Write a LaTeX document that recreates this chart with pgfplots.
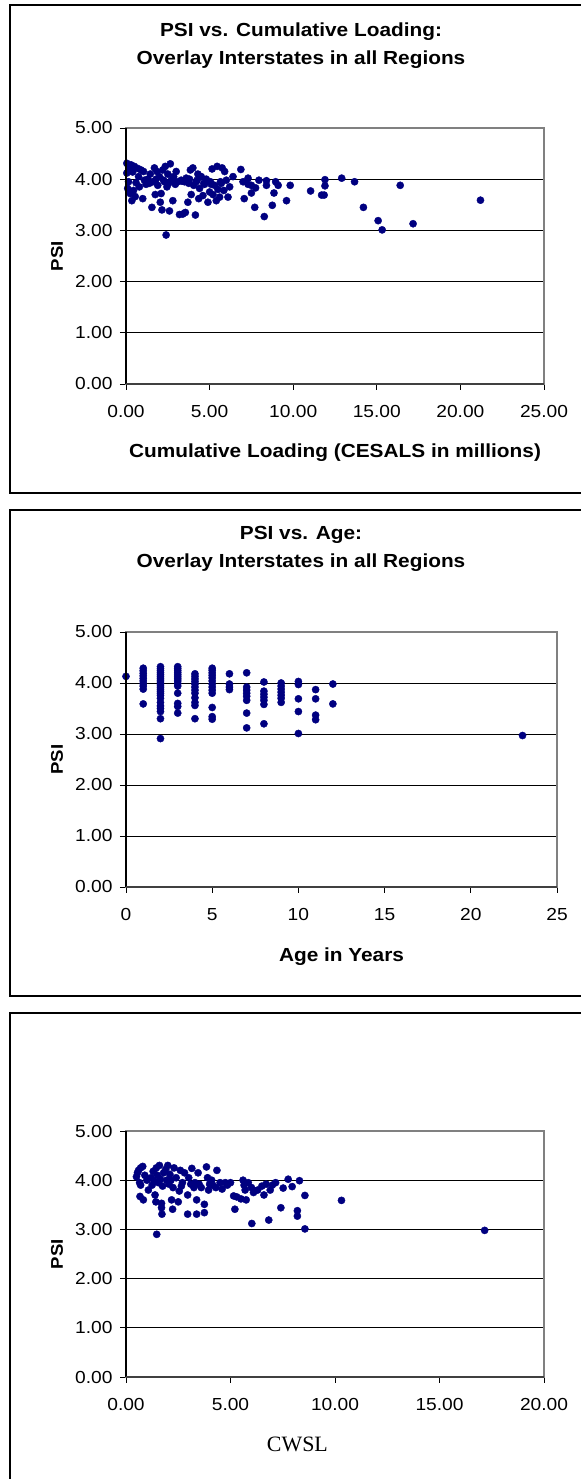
\documentclass[border=0pt]{standalone}
\usepackage{pgfplots}
\pgfplotsset{compat=1.18}
\usepackage{fontspec}
\setmainfont{Liberation Sans}[FakeStretch=1.1]
\newfontfamily\serifcw{Liberation Serif}
\definecolor{navy}{RGB}{0,0,128}
\definecolor{bordergray}{RGB}{128,128,128}

\pgfplotsset{
  psi/.style={
    scale only axis, anchor=south west,
    ymin=0, ymax=5, ytick={0,1,2,3,4,5},
    ymajorgrids, grid style={black, line width=0.7bp},
    axis line style={draw=bordergray, line width=1.2bp},
    tick pos=left, tick align=outside,
    major tick length=6bp,
    tick style={black, line width=0.8bp},
    ticklabel style={font=\fontsize{17.5}{17.5}\selectfont},
    yticklabel style={xshift=-4bp, /pgf/number format/.cd, fixed, fixed zerofill, precision=2, assume math mode=true},
    xticklabel style={yshift=-12bp},
    ylabel={\bfseries PSI},
    ylabel style={font=\fontsize{17}{17}\selectfont, at={(axis description cs:-0.165,0.5)}, anchor=center},
    xlabel style={anchor=center},
    after end axis/.code={
      \draw[black, line width=1.4bp] (rel axis cs:0,1) -- (rel axis cs:0,0);
      \draw[black!75, line width=2bp] (rel axis cs:0,0) -- (rel axis cs:1,0);
    },
  },
  pts/.style={only marks, mark=*, mark size=3.6bp, mark options={draw=navy, fill=navy}},
}

\begin{document}
\begin{tikzpicture}
\useasboundingbox (0,0) rectangle (581bp,1479bp);
\fill[white] (0,0) rectangle (581bp,1479bp);

% frames
\draw[black, line width=2.5bp] (10bp,986bp) rectangle (600bp,1474bp);
\draw[black, line width=2.5bp] (10bp,483bp) rectangle (600bp,969bp);
\draw[black, line width=2.5bp] (10bp,-20bp) rectangle (600bp,466bp);

% titles
\node[font=\bfseries\fontsize{19}{28}\selectfont, align=center] at (301bp,1433bp)
  {PSI vs. Cumulative Loading:\\Overlay Interstates in all Regions};
\node[font=\bfseries\fontsize{19}{28}\selectfont, align=center] at (301bp,930bp)
  {PSI vs. Age:\\Overlay Interstates in all Regions};

% ---------------- Panel 1 ----------------
\begin{axis}[psi, at={(126bp,1095bp)}, width=418bp, height=256bp,
  xmin=0, xmax=25, xtick={0,5,10,15,20,25},
  xticklabel style={/pgf/number format/.cd, fixed, fixed zerofill, precision=2, assume math mode=true},
  xlabel={\bfseries Cumulative Loading (CESALS in millions)},
  xlabel style={font=\fontsize{19}{19}\selectfont, at={(axis description cs:0.5,-0.27)}},
]
\addplot[pts] coordinates {
(0.05,4.31) (0.05,4.12) (0.1,3.82) (0.15,3.95) (0.2,4.22) (0.25,3.72) (0.3,4.28)
(0.35,3.58) (0.4,4.14) (0.45,3.78) (0.5,4.25) (0.55,3.66) (0.6,3.93) (0.7,4.21)
(0.75,4.05) (0.8,3.85) (0.9,4.18) (1.0,3.62) (1.05,4.15) (1.1,3.98) (1.2,3.90)
(1.3,4.00) (1.45,4.10) (1.55,3.45) (1.6,3.95) (1.7,4.22) (1.75,3.70) (1.85,4.15)
(1.9,3.88) (2.0,4.05) (2.05,3.55) (2.1,3.72) (2.15,3.40) (2.2,4.18) (2.3,3.95)
(2.35,4.25) (2.4,2.91) (2.45,3.85) (2.5,4.10) (2.55,3.92) (2.6,3.38) (2.65,4.30)
(2.7,3.98) (2.8,3.58) (2.85,4.05) (2.95,3.90) (3.0,4.15) (3.1,3.95) (3.2,3.31)
(3.3,3.98) (3.4,3.32) (3.5,3.95) (3.55,3.35) (3.6,4.02) (3.7,3.55) (3.75,3.92)
(3.85,4.18) (3.9,3.70) (4.0,4.22) (4.05,3.88) (4.15,3.30) (4.2,3.95) (4.3,4.10)
(4.35,3.62) (4.4,3.82) (4.5,4.05) (4.6,3.68) (4.7,3.90) (4.8,4.00) (4.9,3.55)
(5.0,3.75) (5.05,3.95) (5.15,4.20) (5.2,3.70) (5.3,3.88) (5.4,3.58) (5.45,4.25)
(5.5,3.80) (5.6,3.65) (5.7,3.92) (5.75,4.22) (5.85,3.78) (5.9,4.15) (6.0,3.98)
(6.1,3.65) (6.2,3.85) (1.4,3.92) (1.8,4.00) (2.25,3.98) (2.9,3.95) (3.35,3.96)
(3.8,4.00) (4.25,3.98) (4.65,3.92) (5.1,3.90) (5.65,3.95) (6.4,4.05) (6.87,4.19)
(7.0,3.95) (7.07,3.62) (7.3,3.90) (7.3,4.02) (7.5,3.88) (7.5,3.73) (7.7,3.45)
(7.75,3.83) (7.95,3.98) (8.27,3.27) (8.4,3.88) (8.4,3.97) (8.75,3.49) (8.85,3.73)
(8.95,3.95) (9.1,3.88) (9.6,3.58) (9.82,3.88) (11.04,3.77) (11.7,3.69) (11.85,3.69)
(11.9,3.99) (11.9,3.87) (12.9,4.02) (13.67,3.95) (14.2,3.45) (15.08,3.19)
(15.32,3.01) (16.4,3.88) (17.17,3.13) (21.2,3.59)
};
\end{axis}

% ---------------- Panel 2 ----------------
\begin{axis}[psi, at={(126bp,592bp)}, width=431bp, height=255bp,
  xmin=0, xmax=25, xtick={0,5,10,15,20,25},
  xticklabel style={/pgf/number format/assume math mode=true},
  ylabel style={at={(axis description cs:-0.160,0.5)}},
  xlabel={\bfseries Age in Years},
  xlabel style={font=\fontsize{19}{19}\selectfont, at={(axis description cs:0.5,-0.274)}},
]
\addplot[pts] coordinates {
(0,4.13)
(1,4.29) (1,4.24) (1,4.19) (1,4.14) (1,4.09) (1,4.04) (1,3.99) (1,3.94) (1,3.88) (1,3.59)
(2,4.32) (2,4.28) (2,4.24) (2,4.20) (2,4.16) (2,4.12) (2,4.08) (2,4.04) (2,4.00) (2,3.96)
(2,3.92) (2,3.88) (2,3.84) (2,3.80) (2,3.76) (2,3.70) (2,3.62) (2,3.55) (2,3.50) (2,3.44)
(2,3.30) (2,2.91)
(3,4.32) (3,4.28) (3,4.24) (3,4.20) (3,4.16) (3,4.12) (3,4.08) (3,4.04) (3,3.99) (3,3.94)
(3,3.80) (3,3.60) (3,3.54) (3,3.41)
(4,4.18) (4,4.13) (4,4.08) (4,4.03) (4,3.98) (4,3.92) (4,3.86) (4,3.80) (4,3.71) (4,3.62)
(4,3.56) (4,3.30)
(5,4.29) (5,4.25) (5,4.20) (5,4.15) (5,4.10) (5,4.04) (5,3.98) (5,3.92) (5,3.86) (5,3.80)
(5,3.52) (5,3.34) (5,3.29)
(6,4.18) (6,3.98) (6,3.92) (6,3.87)
(7,4.20) (7,3.92) (7,3.86) (7,3.80) (7,3.74) (7,3.66) (7,3.41) (7,3.12)
(8,4.02) (8,3.84) (8,3.78) (8,3.72) (8,3.66) (8,3.58) (8,3.20)
(9,4.00) (9,3.94) (9,3.88) (9,3.82) (9,3.76) (9,3.70) (9,3.62)
(10,4.03) (10,3.97) (10,3.69) (10,3.44) (10,3.01)
(11,3.87) (11,3.69) (11,3.37) (11,3.28)
(12,3.98) (12,3.59)
(23,2.97)
};
\end{axis}

% ---------------- Panel 3 ----------------
\begin{axis}[psi, at={(126bp,102bp)}, width=418bp, height=246bp,
  xmin=0, xmax=20, xtick={0,5,10,15,20},
  xticklabel style={/pgf/number format/.cd, fixed, fixed zerofill, precision=2, assume math mode=true},
  xlabel={CWSL},
  xlabel style={font=\serifcw\fontsize{22}{22}\selectfont, at={(axis description cs:0.41,-0.276)}},
]
\addplot[pts] coordinates {
(0.5,4.07) (0.55,4.15) (0.6,4.20) (0.7,4.25) (0.8,4.28) (0.65,3.95) (0.7,3.90)
(0.67,3.67) (0.83,3.60) (1.07,3.80) (1.2,4.05) (1.3,4.18) (1.35,3.98) (1.39,3.70)
(1.43,3.56) (1.45,4.25) (1.5,4.10) (1.55,3.95) (1.6,4.30) (1.65,4.02) (1.7,3.53)
(1.7,3.44) (1.72,3.31) (1.75,3.88) (1.8,4.15) (1.47,2.90) (1.9,4.22) (1.95,4.00)
(2.0,4.30) (2.05,3.92) (2.1,4.12) (2.18,3.60) (2.23,3.41) (2.25,3.85) (2.3,4.25)
(2.4,4.05) (2.5,3.56) (2.55,3.78) (2.6,4.20) (2.7,3.95) (2.8,4.15) (2.95,3.70)
(2.95,3.31) (3.0,4.05) (3.1,3.92) (3.15,4.24) (3.25,3.85) (3.38,3.60) (3.38,3.31)
(3.45,4.15) (3.5,3.92) (3.6,3.85) (3.75,3.51) (3.75,3.34) (3.85,4.27) (3.9,4.05)
(3.95,3.80) (4.0,3.92) (4.15,3.90) (4.3,3.85) (4.35,4.20) (4.5,3.95) (4.6,3.82)
(4.75,3.95) (4.85,3.90) (5.0,3.95) (5.15,3.68) (5.21,3.41) (5.3,3.66) (5.5,3.62)
(5.6,4.00) (5.65,3.90) (5.7,3.80) (5.75,3.60) (5.85,3.95) (6.0,3.85) (6.02,3.12)
(6.1,3.75) (6.15,3.78) (6.3,3.80) (6.5,3.88) (6.6,3.70) (6.7,3.92) (6.83,3.19)
(6.9,3.80) (7.0,3.90) (7.16,3.95) (7.41,3.44) (7.52,3.84) (7.76,4.02) (7.95,3.87)
(8.2,3.38) (8.2,3.27) (8.3,3.99) (8.56,3.69) (8.56,3.01) (10.31,3.59) (17.16,2.98)
(0.9,4.10) (1.0,4.00) (1.25,3.90) (2.15,4.00) (2.65,3.88) (3.3,3.95) (4.1,4.00)
};
\end{axis}
\end{tikzpicture}
\end{document}
